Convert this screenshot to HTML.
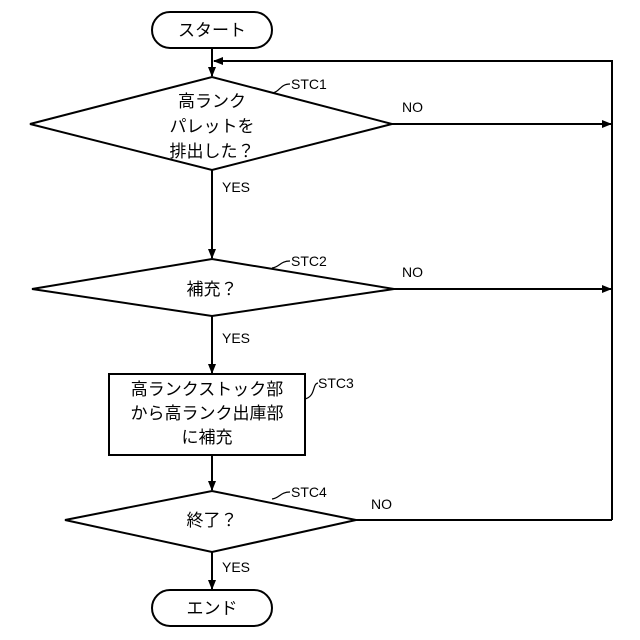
<!DOCTYPE html>
<html><head><meta charset="utf-8"><style>
html,body{margin:0;padding:0;background:#fff;}
svg{display:block;}
text{font-family:"Liberation Sans","Noto Sans CJK JP",sans-serif;fill:#000;}
.j{font-size:17px;}
.l{font-size:14px;}
</style></head><body>
<svg width="640" height="640" viewBox="0 0 640 640" xmlns="http://www.w3.org/2000/svg">
<defs><marker id="a" markerWidth="10" markerHeight="10" refX="9" refY="5" orient="auto" markerUnits="userSpaceOnUse"><path d="M0,1 L10,5 L0,9 Z" fill="#000"/></marker></defs>
<g stroke="#000" stroke-width="2" fill="none">
<rect x="152" y="12" width="120" height="36" rx="18"/>
<line x1="212" y1="48" x2="212" y2="76" marker-end="url(#a)"/>
<polyline points="612,520 612,61 214,61" marker-end="url(#a)"/>
<polygon points="30,124 212,77 392,124 212,170"/>
<line x1="392" y1="124" x2="611" y2="124" marker-end="url(#a)"/>
<line x1="212" y1="170" x2="212" y2="258" marker-end="url(#a)"/>
<polygon points="32,289 212,259 394,289 212,316"/>
<line x1="394" y1="289" x2="611" y2="289" marker-end="url(#a)"/>
<line x1="212" y1="316" x2="212" y2="373" marker-end="url(#a)"/>
<rect x="109" y="374" width="196" height="81"/>
<line x1="212" y1="455" x2="212" y2="490" marker-end="url(#a)"/>
<polygon points="65,520 212,491 356,520 212,552"/>
<line x1="356" y1="520" x2="612" y2="520"/>
<line x1="212" y1="552" x2="212" y2="589" marker-end="url(#a)"/>
<rect x="152" y="590" width="120" height="36" rx="18"/>
</g>
<g stroke="#000" stroke-width="1.2" fill="none">
<path d="M272,93 C280,92 280,84 290,84"/>
<path d="M272,268 C280,267 280,261 290,261"/>
<path d="M305,399 C316,396 312,384 318,383"/>
<path d="M272,499 C280,498 280,492 290,492"/>
</g>
<g text-anchor="middle" class="j">
<text x="212" y="36">スタート</text>
<text x="212" y="107">高ランク</text>
<text x="212" y="132">パレットを</text>
<text x="212" y="157">排出した？</text>
<text x="212" y="295">補充？</text>
<text x="207" y="395">高ランクストック部</text>
<text x="207" y="419">から高ランク出庫部</text>
<text x="207" y="443">に補充</text>
<text x="212" y="526">終了？</text>
<text x="212" y="614">エンド</text>
</g>
<g class="l">
<text x="291" y="89">STC1</text>
<text x="402" y="112">NO</text>
<text x="222" y="192">YES</text>
<text x="291" y="266">STC2</text>
<text x="402" y="277">NO</text>
<text x="222" y="343">YES</text>
<text x="318" y="388">STC3</text>
<text x="291" y="497">STC4</text>
<text x="371" y="509">NO</text>
<text x="222" y="572">YES</text>
</g>
</svg>
</body></html>
